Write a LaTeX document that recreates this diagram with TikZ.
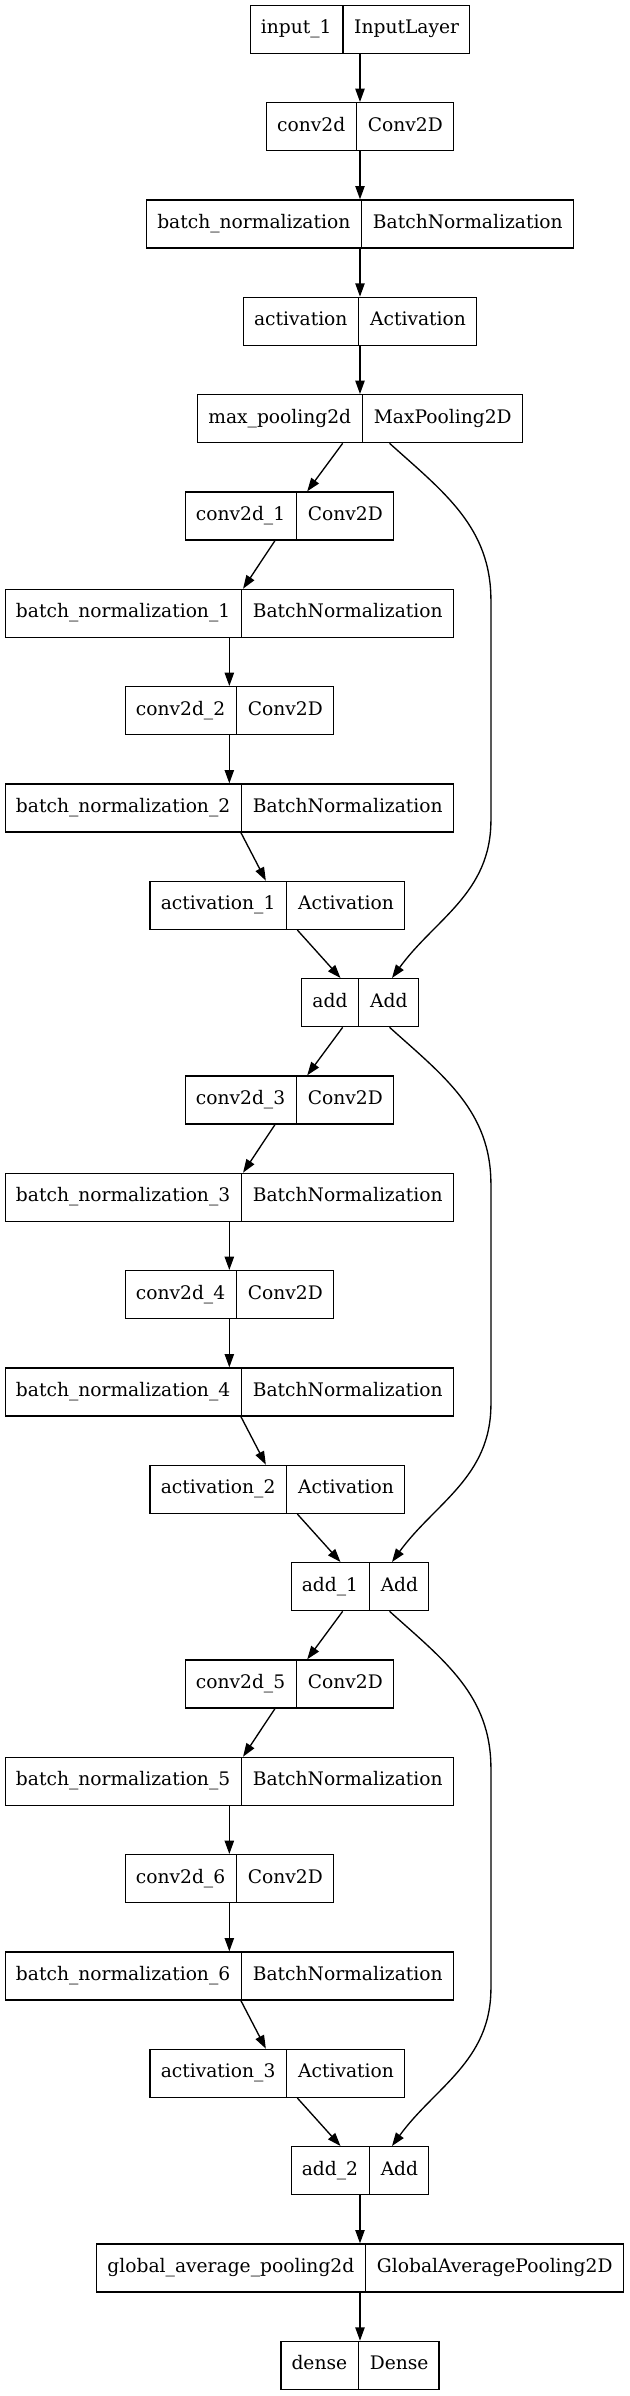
\documentclass[tikz,border=0pt]{standalone}
\usepackage{fontspec}
\setmainfont{DejaVu Serif}
\usetikzlibrary{arrows.meta,shapes.multipart}

\begin{document}
\begin{tikzpicture}[->, >={Triangle[length=10pt,width=7pt]}, line width=1pt, node distance=73pt,
    layer/.style={draw, rectangle split, rectangle split horizontal, rectangle split parts=2,
      rectangle split part align=base, inner xsep=8pt, inner ysep=9.5pt,
      font=\fontsize{14pt}{17pt}\selectfont\strut}]
  \useasboundingbox (-270pt,22pt) rectangle (201.75pt,-1775pt);

  \node[layer] (In)    {input\_1 \nodepart{two} InputLayer};
  \node[layer] (C0)    [below of=In]               {conv2d \nodepart{two} Conv2D};
  \node[layer] (BN0)   [below of=C0]               {batch\_normalization \nodepart{two} BatchNormalization};
  \node[layer] (A0)    [below of=BN0]              {activation \nodepart{two} Activation};
  \node[layer] (MP)    [below of=A0]               {max\_pooling2d \nodepart{two} MaxPooling2D};
  \node[layer] (C1)    [below of=MP, xshift=-53pt] {conv2d\_1 \nodepart{two} Conv2D};
  \node[layer] (BN1)   [below of=C1, xshift=-45pt] {batch\_normalization\_1 \nodepart{two} BatchNormalization};
  \node[layer] (C2)    [below of=BN1]              {conv2d\_2 \nodepart{two} Conv2D};
  \node[layer] (BN2)   [below of=C2]               {batch\_normalization\_2 \nodepart{two} BatchNormalization};
  \node[layer] (A1)    [below of=BN2, xshift=36pt] {activation\_1 \nodepart{two} Activation};
  \node[layer] (Add0)  [below of=A1, xshift=62pt]  {add \nodepart{two} Add};
  \node[layer] (C3)    [below of=Add0, xshift=-53pt] {conv2d\_3 \nodepart{two} Conv2D};
  \node[layer] (BN3)   [below of=C3, xshift=-45pt] {batch\_normalization\_3 \nodepart{two} BatchNormalization};
  \node[layer] (C4)    [below of=BN3]              {conv2d\_4 \nodepart{two} Conv2D};
  \node[layer] (BN4)   [below of=C4]               {batch\_normalization\_4 \nodepart{two} BatchNormalization};
  \node[layer] (A2)    [below of=BN4, xshift=36pt] {activation\_2 \nodepart{two} Activation};
  \node[layer] (Add1)  [below of=A2, xshift=62pt]  {add\_1 \nodepart{two} Add};
  \node[layer] (C5)    [below of=Add1, xshift=-53pt] {conv2d\_5 \nodepart{two} Conv2D};
  \node[layer] (BN5)   [below of=C5, xshift=-45pt] {batch\_normalization\_5 \nodepart{two} BatchNormalization};
  \node[layer] (C6)    [below of=BN5]              {conv2d\_6 \nodepart{two} Conv2D};
  \node[layer] (BN6)   [below of=C6]               {batch\_normalization\_6 \nodepart{two} BatchNormalization};
  \node[layer] (A3)    [below of=BN6, xshift=36pt] {activation\_3 \nodepart{two} Activation};
  \node[layer] (Add2)  [below of=A3, xshift=62pt]  {add\_2 \nodepart{two} Add};
  \node[layer] (GAP)   [below of=Add2]             {global\_average\_pooling2d \nodepart{two} GlobalAveragePooling2D};
  \node[layer] (Dense) [below of=GAP]              {dense \nodepart{two} Dense};

  \path (In.south)  edge (C0.north)
        (C0.south)  edge (BN0.north)
        (BN0.south) edge (A0.north)
        (A0.south)  edge (MP.north)
        ([xshift=-13pt]MP.south)    edge ([xshift=13.4pt]C1.north)
        ([xshift=-10.8pt]C1.south)  edge ([xshift=10.3pt]BN1.north)
        (BN1.south) edge (C2.north)
        (C2.south)  edge (BN2.north)
        ([xshift=8.7pt]BN2.south)   edge ([xshift=-8.6pt]A1.north)
        ([xshift=15pt]A1.south)     edge ([xshift=-14.6pt]Add0.north)
        ([xshift=-13pt]Add0.south)  edge ([xshift=13.4pt]C3.north)
        ([xshift=-10.8pt]C3.south)  edge ([xshift=10.3pt]BN3.north)
        (BN3.south) edge (C4.north)
        (C4.south)  edge (BN4.north)
        ([xshift=8.7pt]BN4.south)   edge ([xshift=-8.6pt]A2.north)
        ([xshift=15pt]A2.south)     edge ([xshift=-14.6pt]Add1.north)
        ([xshift=-13pt]Add1.south)  edge ([xshift=13.4pt]C5.north)
        ([xshift=-10.8pt]C5.south)  edge ([xshift=10.3pt]BN5.north)
        (BN5.south) edge (C6.north)
        (C6.south)  edge (BN6.north)
        ([xshift=8.7pt]BN6.south)   edge ([xshift=-8.6pt]A3.north)
        ([xshift=15pt]A3.south)     edge ([xshift=-14.6pt]Add2.north)
        (Add2.south) edge (GAP.north)
        (GAP.south)  edge (Dense.north)
        ;

  % shortcut connections
  \draw ([xshift=22.2pt]MP.south) to[out=-42,in=90] ++(76pt,-117.75pt)
        -- ++(0,-165pt) to[out=-90,in=54] ([xshift=24pt]Add0.north);
  \draw ([xshift=22.2pt]Add0.south) to[out=-42,in=90] ++(76pt,-117.75pt)
        -- ++(0,-165pt) to[out=-90,in=54] ([xshift=24pt]Add1.north);
  \draw ([xshift=22.2pt]Add1.south) to[out=-42,in=90] ++(76pt,-117.75pt)
        -- ++(0,-165pt) to[out=-90,in=54] ([xshift=24pt]Add2.north);
\end{tikzpicture}
\end{document}
